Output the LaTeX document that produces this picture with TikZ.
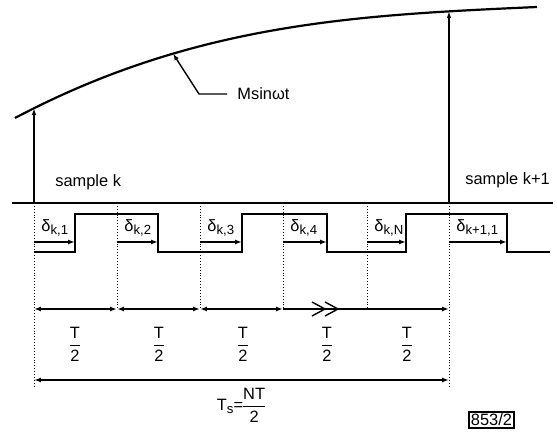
\documentclass[tikz,border=0pt]{standalone}
\usepackage{fontspec}
\usepackage{amsmath}
\setmainfont{Liberation Sans}
\usetikzlibrary{arrows.meta}
\newcommand\lowsub[1]{\raisebox{-0.4ex}{\fontsize{6.6}{8}\selectfont #1}}

\begin{document}
\begin{tikzpicture}[x=0.5pt,y=-0.5pt,
	font=\fontsize{8.2}{10}\selectfont,
	tip/.style={-{Latex[length=3.4pt,width=2.4pt]},line width=0.7pt},
	dim/.style={{Latex[length=3.4pt,width=2.4pt]}-{Latex[length=3.4pt,width=2.4pt]},line width=0.7pt},
	guide/.style={densely dotted,line width=0.45pt},
	lbl/.style={inner sep=0pt}]
	\useasboundingbox (0,0) rectangle (557,432);
	\nulldelimiterspace=0pt
	\newcommand\baseY{203};
	\newcommand\hiY{214};
	\newcommand\loY{252};
	\newcommand\dY{242};
	\newcommand\rowA{309};
	\newcommand\rowB{380};
	\foreach \n/\x in {0/34,1/117,2/200,3/283,4/367,5/449} {
		\coordinate (g\n) at (\x,\baseY);
		\coordinate (a\n) at (\x,\rowA);
		\coordinate (b\n) at (\x,\rowB);
	}
	% curve and the two samples
	\draw[line width=1.1pt] (15,118) .. controls (195,23) and (357,15) .. (537,7);
	\coordinate (smpk) at (34,108.3);
	\coordinate (smpk1) at (449,11.4);
	\coordinate (crv) at (173,53.6);
	\draw[tip] (g0) -- (smpk);
	\draw[tip] (g5) -- (smpk1);
	\node[lbl,anchor=base west] (lk) at (55,187) {sample k};
	\node[lbl,anchor=base west] (lk1) at (465,185) {sample k+1};
	\node[lbl,anchor=west] (msin) at (237,94) {Msinωt};
	\draw[tip] ([xshift=-5pt]msin.west) -- ++(-28,0) -- (crv);
	\draw[line width=0.8pt] (12,\baseY) -- (553,\baseY);
	% guides
	\foreach \n in {1,...,4} {
		\draw[guide] (g\n) -- (a\n);
	}
	\draw[guide] (g0) -- ([yshift=-4pt]b0);
	\draw[guide] (g5) -- ([yshift=-4pt]b5);
	% switching wave
	\draw[line width=0.8pt] (34,\loY) -| (75,\hiY) -| (158,\loY) -| (242,\hiY)
		-| (327,\loY) -| (406,\hiY) -| (507,\loY) -- (550,\loY);
	\foreach \n/\e/\t in {0/75/{k,1},1/158/{k,2},2/242/{k,3},3/327/{k,4},4/406/{k,N},5/507/{k+1,1}} {
		\draw[tip] (g\n |- 0,\dY) -- (\e,\dY);
		\node[lbl,anchor=west] (d\n) at ([shift={(7,25)}]g\n) {δ\lowsub{\t}};
	}
	% periods
	\draw[dim] (a0) -- (a1);
	\draw[dim] (a1) -- (a2);
	\draw[dim] (a2) -- (a3);
	\draw[tip] (a3) -- (a5);
	\draw[line width=0.7pt] (312,302) -- (325,309) -- (312,316) (325,302) -- (338,309) -- (325,316);
	\foreach \x in {75,159,243,327,407} {
		\node (h\x) at (\x,344) {$\dfrac{\text{T}}{\text{2}}$};
	}
	\draw[dim] (b0) -- (b5);
	\node (ts) at (241,405) {T\lowsub{s}=$\dfrac{\text{NT}}{\text{2}}$};
	\node[draw,line width=0.7pt,minimum width=22.5pt,minimum height=8pt,inner sep=0pt] (fig) at (491.5,420) {853/2};
\end{tikzpicture}
\end{document}
